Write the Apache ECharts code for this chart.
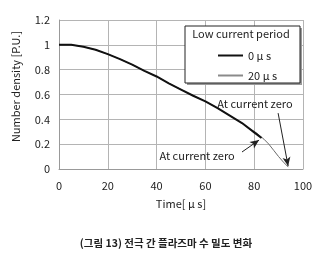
<!DOCTYPE html>
<html><head><meta charset="utf-8">
<script src="https://cdn.jsdelivr.net/npm/echarts@6/dist/echarts.min.js"></script>
<style>html,body{margin:0;padding:0;background:#fff}#c{width:320px;height:266px}</style>
</head><body><div id="c"></div>
<script>
const timeBlack = [0, 5, 10, 15, 20, 25, 30, 35, 40, 45, 50, 55, 60, 65, 70, 75, 80, 83];
const valBlack  = [1.0, 1.0, 0.985, 0.96, 0.925, 0.885, 0.84, 0.79, 0.745, 0.69, 0.64, 0.59, 0.545, 0.49, 0.43, 0.37, 0.295, 0.25];
const timeGray = [0, 5, 10, 15, 20, 25, 30, 35, 40, 45, 50, 55, 60, 65, 70, 75, 78, 81, 84, 86, 88, 90, 92, 94];
const valGray  = [1.0, 1.0, 0.985, 0.96, 0.925, 0.885, 0.84, 0.79, 0.745, 0.69, 0.64, 0.59, 0.545, 0.49, 0.43, 0.37, 0.325, 0.29, 0.24, 0.2, 0.15, 0.1, 0.055, 0.015];
const seriesNames = ['0 μ s', '20 μ s'];
const xTicks = [0, 20, 40, 60, 80, 100];
const yTicks = [0, 0.2, 0.4, 0.6, 0.8, 1, 1.2];
const annotText = 'At current zero';
const arrowUpper = [[89.8, 0.45], [93.9, 0.024]];
const arrowLower = [[75, 0.137], [82, 0.233]];
const labelUpper = [80.3, 0.523];
const labelLower = [56.6, 0.107];

const FONT = '"Noto Sans CJK JP", "Liberation Sans", sans-serif';
const chart = echarts.init(document.getElementById('c'), null, {renderer: 'canvas'});
const pairs = (xs, ys) => xs.map((x, i) => [x, ys[i]]);
chart.setOption({
  animation: false,
  backgroundColor: '#fff',
  textStyle: {fontFamily: FONT},
  grid: {left: 59, right: 17, top: 20, bottom: 97},
  title: {
    text: '(그림 13) 전극 간 플라즈마 수 밀도 변화',
    left: 161, top: 233, textAlign: 'center',
    textStyle: {fontFamily: '"Noto Sans CJK KR", sans-serif', fontSize: 10.5, fontWeight: 'bold', color: '#222'}
  },
  xAxis: {
    type: 'value', min: xTicks[0], max: xTicks[xTicks.length - 1], interval: 20,
    name: 'Time[ μ s]', nameLocation: 'middle', nameGap: 29,
    nameTextStyle: {fontSize: 11, color: '#222', fontFamily: FONT},
    axisLine: {show: true, lineStyle: {color: '#999'}},
    axisTick: {show: false},
    axisLabel: {fontSize: 11, color: '#222', margin: 11, fontFamily: FONT},
    splitLine: {show: true, lineStyle: {color: '#b4b4b4'}}
  },
  yAxis: {
    type: 'value', min: yTicks[0], max: yTicks[yTicks.length - 1], interval: 0.2,
    name: 'Number density [P.U.]', nameLocation: 'middle', nameGap: 38, nameRotate: 90,
    nameTextStyle: {fontSize: 11, color: '#222', fontFamily: FONT, padding: [0, 0, 0, 16]},
    axisLine: {show: true, lineStyle: {color: '#999'}},
    axisTick: {show: false},
    axisLabel: {fontSize: 11, color: '#222', margin: 9, fontFamily: FONT},
    splitLine: {show: true, lineStyle: {color: '#b4b4b4'}}
  },
  legend: {
    orient: 'vertical', left: 213, top: 45, itemWidth: 25, itemHeight: 2, itemGap: 9,
    z: 10, icon: 'rect',
    data: [
      {name: seriesNames[0], itemStyle: {color: '#111'}},
      {name: seriesNames[1], itemStyle: {color: '#8a8a8a'}}
    ],
    textStyle: {fontSize: 11, color: '#222', fontFamily: FONT}
  },
  graphic: [
    {type: 'rect', z: 5, shape: {x: 187, y: 28, width: 115, height: 57}, style: {fill: '#999'}},
    {type: 'rect', z: 6, shape: {x: 185, y: 26, width: 115, height: 57}, style: {fill: '#fff', stroke: '#222', lineWidth: 1}},
    {type: 'text', z: 7, x: 241, y: 34, style: {text: 'Low current period', fontSize: 11, fill: '#222', fontFamily: FONT, align: 'center', verticalAlign: 'middle'}}
  ],
  series: [
    {
      name: seriesNames[1], type: 'line', data: pairs(timeGray, valGray), symbol: 'none', z: 2,
      lineStyle: {color: '#6a6a6a', width: 1}, itemStyle: {color: '#6a6a6a'}
    },
    {
      name: seriesNames[0], type: 'line', data: pairs(timeBlack, valBlack), symbol: 'none', z: 3,
      lineStyle: {color: '#111', width: 2}, itemStyle: {color: '#111'},
      markLine: {
        silent: true, symbol: ['none', 'arrow'], symbolSize: [6, 9],
        lineStyle: {color: '#222', width: 1, type: 'solid'}, label: {show: false},
        data: [
          [{coord: arrowUpper[0]}, {coord: arrowUpper[1]}],
          [{coord: arrowLower[0]}, {coord: arrowLower[1]}]
        ]
      },
      markPoint: {
        symbol: 'circle', symbolSize: 0, silent: true,
        label: {show: true, position: 'inside', formatter: annotText, fontSize: 11, color: '#222', fontFamily: FONT},
        data: [{coord: labelUpper}, {coord: labelLower}]
      }
    }
  ]
});
</script></body></html>
